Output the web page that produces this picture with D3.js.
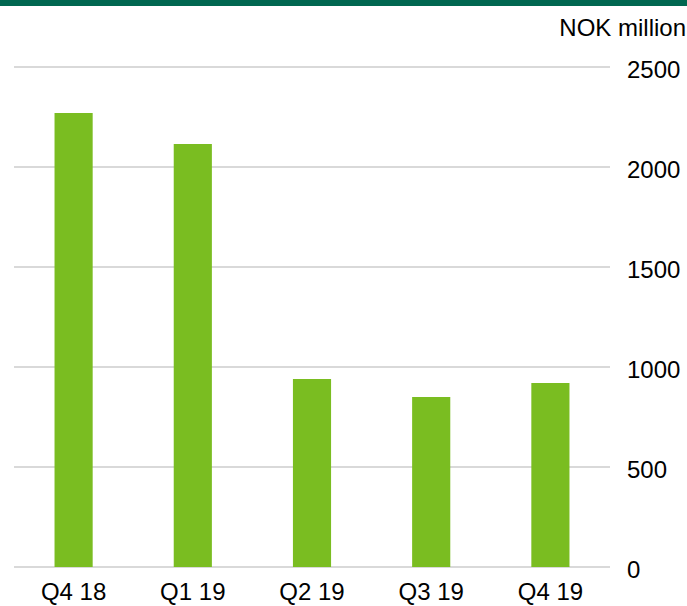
<!DOCTYPE html>
<html><head><meta charset="utf-8">
<script src="https://cdn.jsdelivr.net/npm/d3@7"></script>
<style>body{margin:0;background:#fff}svg{display:block}text{font-family:"Liberation Sans",Arial,sans-serif;fill:#000}</style>
</head><body><svg id="c" width="687" height="606"></svg>
<script>
const categories = ["Q4 18","Q1 19","Q2 19","Q3 19","Q4 19"];
const values = [2270, 2115, 940, 850, 920];
const yTicks = [0,500,1000,1500,2000,2500];
const unitLabel = "NOK million";

const svg = d3.select("#c");
const W = 687;
const FS = 24;
svg.append("rect").attr("x",0).attr("y",0).attr("width",W).attr("height",6).attr("fill","#006750");

const x = d3.scaleBand().domain(categories).range([14,610]).paddingInner(0.68).paddingOuter(0.34);
const y = d3.scaleLinear().domain([0,2500]).range([567,67]);

const grid = svg.append("g");
grid.selectAll("line").data(yTicks).join("line")
  .attr("x1",14).attr("x2",610).attr("y1",d=>y(d)).attr("y2",d=>y(d))
  .attr("stroke","#d9d9d9").attr("stroke-width",2);

svg.append("g").selectAll("rect").data(values).join("rect")
  .attr("x",(d,i)=>x(categories[i])).attr("width",x.bandwidth())
  .attr("y",d=>y(d)).attr("height",d=>y(0)-y(d)).attr("fill","#7abd21");

const yAxis = d3.axisRight(y).tickValues(yTicks).tickFormat(d3.format("d")).tickSize(0).tickPadding(0);
const ya = svg.append("g").attr("transform","translate(627,0)").call(yAxis);
ya.select(".domain").remove();
ya.selectAll("text").attr("font-size",FS).attr("font-family","Liberation Sans, Arial, sans-serif").attr("fill","#000").attr("dy","0.42em");

const xAxis = d3.axisBottom(x).tickSize(0).tickPadding(0);
const xa = svg.append("g").attr("transform","translate(0,600)").call(xAxis);
xa.select(".domain").remove();
xa.selectAll("text").attr("font-size",FS).attr("font-family","Liberation Sans, Arial, sans-serif").attr("fill","#000").attr("y",0).attr("dy",0);

svg.append("text").attr("x",686).attr("y",36).attr("text-anchor","end").attr("font-size",FS).text(unitLabel);
</script></body></html>
